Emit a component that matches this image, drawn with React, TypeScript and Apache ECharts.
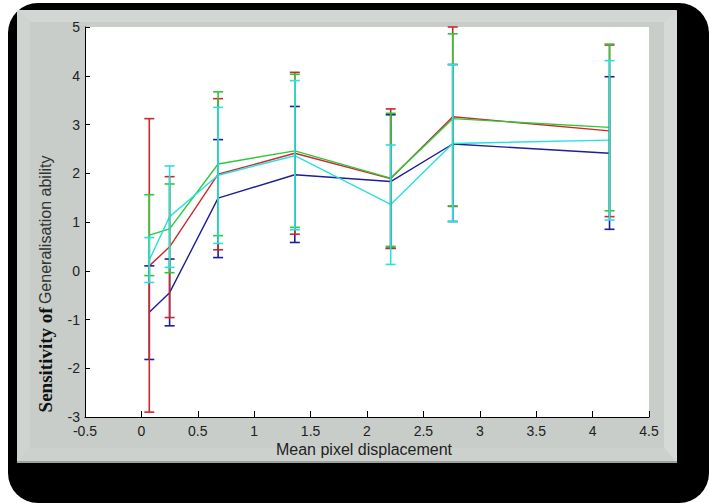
import React, { useEffect, useRef } from "react";
import * as echarts from "echarts";

const xs = [0.07, 0.25, 0.68, 1.36, 2.21, 2.76, 4.15];

const blueMean = [-0.85, -0.45, 1.49, 1.97, 1.83, 2.6, 2.41];
const blueLow = [-1.82, -1.13, 0.27, 0.58, 0.46, 1.01, 0.85];
const blueHigh = [0.1, 0.24, 2.69, 3.37, 3.2, 4.23, 3.98];

const redMean = [0.1, 0.49, 1.98, 2.41, 1.89, 3.16, 2.87];
const redLow = [-2.9, -0.96, 0.43, 0.75, 0.46, 1.32, 1.11];
const redHigh = [3.12, 1.93, 3.53, 4.07, 3.32, 5.0, 4.63];

const greenMean = [0.73, 0.86, 2.19, 2.46, 1.9, 3.12, 2.94];
const greenLow = [-0.1, -0.04, 0.72, 0.89, 0.5, 1.33, 1.23];
const greenHigh = [1.56, 1.78, 3.67, 4.03, 3.23, 4.86, 4.65];

const cyanMean = [0.22, 1.11, 1.96, 2.36, 1.36, 2.61, 2.68];
const cyanLow = [-0.24, 0.07, 0.56, 0.84, 0.13, 1.01, 1.04];
const cyanHigh = [0.68, 2.15, 3.35, 3.9, 2.58, 4.23, 4.31];

const xTicks = ["-0.5", "0", "0.5", "1", "1.5", "2", "2.5", "3", "3.5", "4", "4.5"];
const yTicks = ["-3", "-2", "-1", "0", "1", "2", "3", "4", "5"];

const seriesDefs = [
  { name: "blue", color: "#1e1e96", mean: blueMean, low: blueLow, high: blueHigh },
  { name: "red", color: "#cf2828", mean: redMean, low: redLow, high: redHigh },
  { name: "green", color: "#2ec83c", mean: greenMean, low: greenLow, high: greenHigh },
  { name: "cyan", color: "#28e0e0", mean: cyanMean, low: cyanLow, high: cyanHigh },
];

const FONT = "'Liberation Sans', Arial, Helvetica, sans-serif";

export default function App() {
  const ref = useRef<HTMLDivElement>(null);
  useEffect(() => {
    const chart = echarts.init(ref.current!, null, { renderer: "svg" });

    const lineSeries = seriesDefs.map((s) => ({
      type: "line",
      name: s.name + "-mean",
      data: xs.map((x, i) => [x, s.mean[i]]),
      showSymbol: false,
      symbol: "none",
      lineStyle: { color: s.color, width: 1.4 },
      z: 3,
    }));

    const errSeries = seriesDefs.map((s, k) => ({
      type: "custom",
      name: s.name + "-err",
      data: xs.map((x, i) => [x, s.low[i], s.high[i]]),
      encode: { x: 0, y: [1, 2] },
      z: 4 + k,
      renderItem: (params: any, api: any) => {
        const x = api.value(0);
        const lo = api.value(1);
        const hi = api.value(2);
        const p1 = api.coord([x, hi]);
        const p2 = api.coord([x, lo]);
        const w = 5;
        const st = { stroke: s.color, lineWidth: 1.6, fill: "none" };
        return {
          type: "group",
          children: [
            { type: "line", shape: { x1: p1[0], y1: p1[1], x2: p2[0], y2: p2[1] }, style: st },
            { type: "line", shape: { x1: p1[0] - w, y1: p1[1], x2: p1[0] + w, y2: p1[1] }, style: st },
            { type: "line", shape: { x1: p2[0] - w, y1: p2[1], x2: p2[0] + w, y2: p2[1] }, style: st },
          ],
        };
      },
    }));

    const option: any = {
      animation: false,
      backgroundColor: "#ffffff",
      graphic: [
        {
          type: "rect",
          z: -10,
          silent: true,
          shape: { x: 8, y: 3, width: 701, height: 500, r: 30 },
          style: { fill: "#000000" },
        },
        {
          type: "rect",
          z: -9,
          silent: true,
          shape: { x: 17, y: 10, width: 660, height: 453, r: 4 },
          style: { fill: "#c9cdc9" },
        },
        {
          type: "polygon",
          z: -8,
          silent: true,
          shape: { points: [[17, 10], [677, 10], [664, 22], [30, 22]] },
          style: { fill: "#d3d7d3" },
        },
        {
          type: "polygon",
          z: -8,
          silent: true,
          shape: { points: [[17, 10], [30, 22], [30, 448], [17, 463]] },
          style: { fill: "#d0d4d0" },
        },
        {
          type: "polygon",
          z: -8,
          silent: true,
          shape: { points: [[677, 10], [664, 22], [664, 448], [677, 463]] },
          style: { fill: "#d6dad6" },
        },
        {
          type: "polygon",
          z: -8,
          silent: true,
          shape: { points: [[17, 463], [30, 448], [664, 448], [677, 463]] },
          style: { fill: "#cdd1cd" },
        },
        {
          type: "rect",
          z: -7,
          silent: true,
          shape: { x: 17, y: 461, width: 660, height: 2 },
          style: { fill: "#9ea29e" },
        },
        {
          type: "text",
          z: 10,
          x: 45,
          y: 284,
          rotation: Math.PI / 2,
          style: {
            text: "{a|Sensitivity of} {b|Generalisation ability}",
            align: "center",
            verticalAlign: "middle",
            rich: {
              a: {
                fontFamily: "'Liberation Serif', 'Times New Roman', serif",
                fontWeight: "bold",
                fontSize: 19,
                fill: "#111",
              },
              b: {
                fontFamily: FONT,
                fontSize: 16,
                fill: "#333",
              },
            },
          },
        },
        {
          type: "text",
          z: 10,
          x: 364,
          y: 449,
          style: {
            text: "Mean pixel displacement",
            align: "center",
            verticalAlign: "middle",
            fontFamily: FONT,
            fontSize: 16,
            fill: "#222",
          },
        },
      ],
      grid: {
        left: 85,
        right: 60,
        top: 27,
        bottom: 86,
        show: true,
        backgroundColor: "#ffffff",
        borderWidth: 0,
      },
      xAxis: {
        type: "value",
        min: -0.5,
        max: 4.5,
        interval: 0.5,
        splitLine: { show: false },
        axisLine: { show: true, onZero: false, lineStyle: { color: "#000", width: 1 } },
        axisTick: { show: true, inside: true, length: 6, lineStyle: { color: "#000" } },
        axisLabel: {
          margin: 8,
          fontFamily: FONT,
          fontSize: 14,
          lineHeight: 12,
          color: "#222",
          formatter: (v: number) => {
            const idx = Math.round((v + 0.5) / 0.5);
            return xTicks[idx] ?? String(v);
          },
        },
      },
      yAxis: {
        type: "value",
        min: -3,
        max: 5,
        interval: 1,
        splitLine: { show: false },
        axisLine: { show: true, onZero: false, lineStyle: { color: "#000", width: 1 } },
        axisTick: { show: true, inside: true, length: 5, lineStyle: { color: "#000" } },
        axisLabel: {
          margin: 5,
          fontFamily: FONT,
          fontSize: 14,
          lineHeight: 12,
          color: "#222",
          formatter: (v: number) => {
            const idx = Math.round(v + 3);
            return yTicks[idx] ?? String(v);
          },
        },
      },
      series: [...lineSeries, ...errSeries],
    };
    chart.setOption(option);
    return () => chart.dispose();
  }, []);
  return <div ref={ref} style={{ width: 709, height: 503, position: "fixed", left: 0, top: 0 }} />;
}
